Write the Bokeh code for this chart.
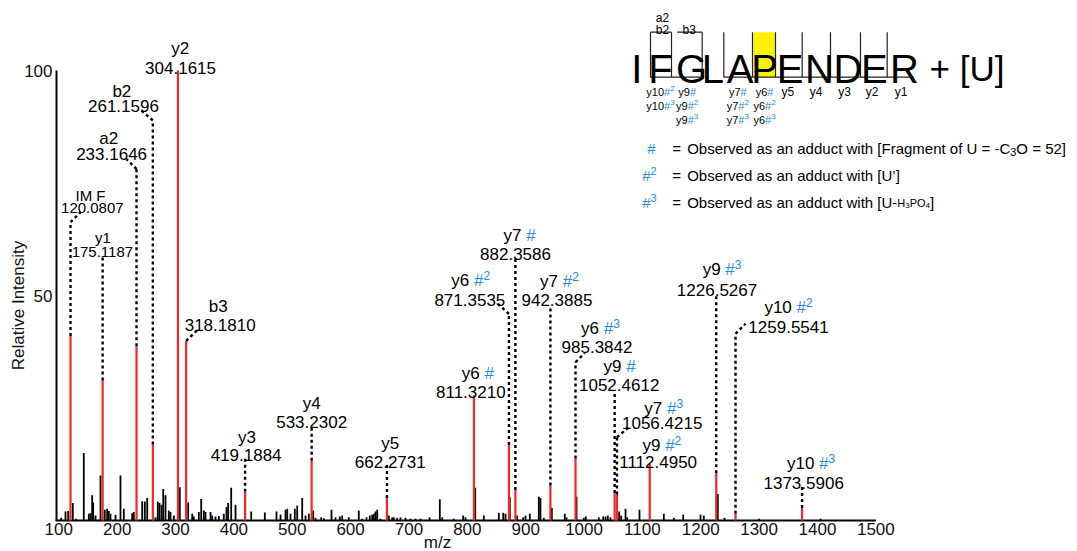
import math
from bokeh.plotting import figure
from bokeh.models import ColumnDataSource, FixedTicker
from bokeh.core.properties import value
from bokeh.embed import file_html
from bokeh.resources import INLINE

# ---------------- data ----------------
ion_mz = [120.0807, 175.1187, 233.1646, 261.1596, 304.1615, 318.1810, 419.1884, 533.2302,
          662.2731, 811.3210, 871.3535, 882.3586, 942.3885, 985.3842, 1052.4612, 1056.4215,
          1112.4950, 1226.5267, 1259.5541, 1373.5906]
ion_int = [41.0, 31.1, 38.7, 16.9, 100.0, 39.9, 6.4, 13.3, 5.0, 27.8, 16.8, 6.8, 7.8, 13.8,
           6.1, 5.8, 12.6, 10.5, 1.5, 2.8]
ion_name = ["IM F", "y1", "a2", "b2", "y2", "b3", "y3", "y4", "y5", "y6", "y6", "y7", "y7",
            "y6", "y9", "y7", "y9", "y9", "y10", "y10"]
ion_adduct = [0, 0, 0, 0, 0, 0, 0, 0, 0, 1, 2, 1, 2, 3, 1, 3, 2, 3, 2, 3]

other_mz = [104.0, 111.5, 116.1, 124.0, 129.8, 142.8, 151.4, 154.3, 157.2, 158.9, 162.9, 171.5,
            178.8, 182.9, 185.7, 188.6, 197.2, 205.7, 211.4, 225.8, 228.5, 242.9, 247.4, 251.5,
            265.7, 269.6, 272.5, 276.0, 278.9, 282.8, 288.5, 291.4, 297.1, 307.3, 321.7, 328.6,
            331.3, 339.9, 344.0, 348.5, 351.4, 360.0, 362.8, 368.5, 374.2, 382.7, 387.4, 390.2,
            395.4, 402.8, 429.7, 453.0, 473.0, 479.9, 488.5, 491.4, 497.0, 504.4, 508.5, 517.1,
            522.7, 528.4, 535.9, 539.9, 549.6, 554.1, 567.3, 574.1, 581.5, 585.6, 596.9, 614.0,
            619.9, 627.2, 632.9, 637.0, 639.8, 642.7, 645.6, 651.2, 665.5, 671.3, 674.0, 679.8,
            685.5, 694.1, 702.6, 711.2, 719.8, 735.2, 752.9, 757.0, 776.8, 792.9, 796.9, 813.5,
            828.3, 854.0, 861.5, 865.4, 872.8, 885.4, 895.7, 899.7, 907.1, 922.5, 925.3, 931.1,
            944.8, 967.0, 970.0, 987.1, 999.6, 1003.0, 1025.3, 1032.8, 1036.8, 1040.7, 1045.3,
            1060.2, 1063.7, 1071.1, 1074.0, 1095.0, 1136.7, 1153.8, 1169.9, 1199.6, 1205.2,
            1229.2, 1240.7, 1299.5, 1405.2]
other_int = [0.6, 2.0, 2.1, 3.9, 0.4, 15.0, 1.5, 1.6, 5.6, 4.0, 1.1, 10.0,
             2.4, 2.6, 2.1, 1.5, 1.3, 10.0, 2.6, 1.6, 1.9, 4.3, 4.2, 5.0,
             0.7, 4.2, 3.9, 3.5, 7.0, 5.6, 2.2, 1.9, 1.1, 7.4, 4.0, 1.5,
             0.9, 1.9, 4.8, 2.2, 1.9, 1.9, 1.1, 0.9, 1.0, 1.5, 3.0, 3.9,
             7.3, 3.5, 2.0, 1.8, 2.0, 1.3, 2.4, 2.6, 1.5, 2.6, 3.3, 5.0,
             1.1, 1.5, 2.2, 0.6, 0.7, 0.5, 2.4, 0.7, 0.9, 1.1, 0.7, 2.2,
             0.4, 0.7, 1.1, 1.3, 1.5, 2.0, 2.4, 0.4, 1.1, 0.7, 0.7, 0.6,
             0.7, 0.6, 0.4, 0.4, 0.4, 0.7, 4.7, 0.7, 0.4, 1.1, 0.7, 7.3,
             1.1, 1.7, 1.7, 1.5, 5.2, 1.1, 0.7, 1.1, 1.5, 5.3, 5.0, 0.6,
             2.8, 1.5, 0.7, 5.3, 0.6, 0.9, 0.7, 0.9, 0.9, 1.1, 0.7,
             2.0, 1.1, 2.6, 0.7, 2.4, 1.5, 0.6, 1.3, 1.3, 1.1,
             5.9, 0.6, 0.4, 0.4]

x_ticks = list(range(100, 1501, 100))
y_ticks = [50, 100]
x_title = "m/z"
y_title = "Relative Intensity"

sequence = "IFGLAPENDER"
modified_index = 5
modification = "+ [U]"
legend_rows = [
    [("Observed as an adduct with [Fragment of U = -C", "n"), ("3", "sub"), ("O = 52]", "n")],
    [("Observed as an adduct with [U\u2019]", "n")],
    [("Observed as an adduct with [U-", "n"), ("H", "s"), ("3", "ss"), ("PO", "s"), ("4", "ss"), ("]", "n")],
]

# ---------------- layout (pixel offsets, not data) ----------------
lead_top = [66.3, 58.5, 78.1, 88.9, None, None, 13.7, 21.1, 12.7, None, 45.9, 58.7, 47.8, 35.2,
            28.9, 18.5, None, 50.2, 41.5, 7.8]
lead_diag = [(10, -10), None, (-10, -10), (-12.7, -11), None, (11, -10.7), None, None, None, None,
             (-11.6, -10.6), None, None, (9.3, -9), None, (11.8, -10), None, None, (10, -10), None]
lab_dx1 = [20, 0.3, -27.8, -31, 2.3, 32, 2, 0, 3.3, 4, -38.3, 4.3, 9, 25, 4.9, 46.8, 12.2, 5.8, 53, 9]
lab_dx2 = [21.8, 0.3, -24.9, -29.4, 2.6, 34, 1, 0, 3.3, -2.5, -39.1, 0.1, 6.5, 21.5, 4.5, 45.2, 9.7, 0.8, 53, 1.6]
lab_base1 = [194.9, 237.1, 137.8, 91.4, 48, 306.1, 436.6, 403.3, 443.3, 373.3, 280.3, 235, 281.3,
             328.3, 366, 407.6, 445, 269.3, 306.6, 463.3]
lab_base2 = [207.4, 251.4, 153.8, 105.8, 67.8, 324.1, 454.4, 421.1, 461.1, 391.1, 299.4, 253.1,
             299.4, 346.4, 384.4, 422.4, 461.8, 289.4, 326.8, 482.8]
lab_fs = [15, 15] + [17] * 18

res_px = [636.3, 660, 686.7, 712.3, 737.3, 764, 787.3, 815.7, 844, 871.7, 900.7]
cleave_px = [650, 671, 701.7, 723.3, 752, 775, 801.7, 830, 860, 886.7]
seq_end_px = 913.3

FONT = "Liberation Sans"
BLUE = "#2a8bd6"
RED = "#f0282a"

W, H = 1077, 551
SX, SY = 0.5836, 4.5          # px per m/z unit, px per % intensity
X0 = 100 - 58.3 / SX           # frame covers the whole canvas
X1 = X0 + W / SX
Y1 = 520 / SY                  # baseline at y 520
Y0 = Y1 - H / SY


def PX(px):
    return X0 + px / SX


def PY(py):
    return Y1 - py / SY


AW = {' ': 0.278, '#': 0.556, '.': 0.278, '-': 0.333, '=': 0.584, '[': 0.278, ']': 0.278,
      '\u2019': 0.222, '+': 0.584, '/': 0.278,
      'a': 0.556, 'b': 0.556, 'c': 0.5, 'd': 0.556, 'e': 0.556, 'f': 0.278, 'g': 0.556,
      'h': 0.556, 'i': 0.222, 'm': 0.833, 'n': 0.556, 'o': 0.556, 'r': 0.333, 's': 0.5,
      't': 0.278, 'u': 0.556, 'v': 0.5, 'w': 0.722, 'y': 0.5, 'z': 0.5,
      'C': 0.722, 'F': 0.611, 'H': 0.722, 'I': 0.278, 'M': 0.833, 'O': 0.778, 'P': 0.667,
      'U': 0.722}


def tw(s, fs):
    return sum(AW.get(c, 0.556) for c in s) * fs


T = dict(x=[], y=[], text=[], color=[], size=[])


def put(x, y, s, color, fs):
    T['x'].append(x)
    T['y'].append(y)
    T['text'].append(s)
    T['color'].append(color)
    T['size'].append(f"{fs}px")


def runs_left(xl, ybase, runs):
    x = xl
    for t, c, fs, r in runs:
        put(x, PY(ybase - r), t, c, fs)
        x += tw(t, fs) / SX


def runs_center(xc, ybase, runs):
    total = sum(tw(t, fs) for t, c, fs, r in runs)
    runs_left(xc - total / 2 / SX, ybase, runs)


p = figure(width=W, height=H, x_range=(X0, X1), y_range=(Y0, Y1),
           output_backend="svg", toolbar_location=None,
           min_border_left=0, min_border_right=0, min_border_top=0, min_border_bottom=0)
p.grid.visible = False
p.outline_line_color = None
p.background_fill_color = "white"

p.xaxis.ticker = FixedTicker(ticks=x_ticks)
p.yaxis.ticker = FixedTicker(ticks=y_ticks)
p.xaxis.fixed_location = 0
p.yaxis.fixed_location = PX(56)
for ax in (p.xaxis[0], p.yaxis[0]):
    ax.axis_line_color = None
    ax.major_tick_line_color = None
    ax.minor_tick_line_color = None
    ax.major_tick_out = 0
    ax.major_tick_in = 0
    ax.minor_tick_out = 0
    ax.minor_tick_in = 0
    ax.major_label_text_font = FONT
    ax.major_label_text_font_size = "17px"
    ax.major_label_text_color = "#111111"
p.xaxis.major_label_standoff = 2
p.yaxis.major_label_standoff = 4

# axis lines
p.segment(x0=[PX(56)], y0=[0], x1=[PX(56)], y1=[100], line_color="black", line_width=2)
p.segment(x0=[PX(55)], y0=[0], x1=[x_ticks[-1]], y1=[0], line_color="black", line_width=2)

# peaks
p.segment(x0=other_mz, y0=[0] * len(other_mz), x1=other_mz, y1=other_int,
          line_color="black", line_width=1.8)
p.segment(x0=ion_mz, y0=[0] * len(ion_mz), x1=ion_mz, y1=ion_int,
          line_color=RED, line_width=2.2)

# leader lines
lx0, ly0, lx1, ly1 = [], [], [], []
for i, mz in enumerate(ion_mz):
    ys = ion_int[i]
    if lead_top[i] is not None:
        lx0.append(mz); ly0.append(ion_int[i]); lx1.append(mz); ly1.append(lead_top[i])
        ys = lead_top[i]
    if lead_diag[i] is not None:
        dx, dy = lead_diag[i]
        lx0.append(mz); ly0.append(ys); lx1.append(mz + dx / SX); ly1.append(ys - dy / SY)
p.segment(x0=lx0, y0=ly0, x1=lx1, y1=ly1, line_color="black", line_width=2.4, line_dash="3 3")

# peak labels
for i, mz in enumerate(ion_mz):
    fs = lab_fs[i]
    a = ion_adduct[i]
    if a == 0:
        r1 = [(ion_name[i], "black", fs, 0)]
    else:
        r1 = [(ion_name[i] + " ", "black", fs, 0), ("#", BLUE, fs, 0)]
        if a >= 2:
            r1.append((str(a), BLUE, round(0.7 * fs), 0.3 * fs))
    runs_center(mz + lab_dx1[i] / SX, lab_base1[i], r1)
    runs_center(mz + lab_dx2[i] / SX, lab_base2[i], [(f"{mz:.4f}", "black", fs, 0)])

# ---------------- peptide diagram ----------------
p.quad(left=[PX(752.7)], right=[PX(775)], top=[PY(31.7)], bottom=[PY(76.7)],
       fill_color="#fff200", line_color=None)
for k, ch in enumerate(sequence):
    runs_center(PX(res_px[k]), 68.3, [(ch, "black", 40, 0)])
runs_left(PX(929), 68.3, [(modification, "black", 35, 0)])

yT, yB = 31.7, 76.7
bx0, by0, bx1, by1 = [], [], [], []
for cx in cleave_px:
    bx0.append(PX(cx)); by0.append(PY(yT)); bx1.append(PX(cx)); by1.append(PY(yB))
n_res = len(sequence)
ynums = sorted({int(n[1:]) for n in ion_name if n.startswith("y")})
for n in ynums:
    c = n_res - n
    left = cleave_px[c - 1]
    right = cleave_px[c] if c < len(cleave_px) else seq_end_px
    bx0.append(PX(left)); by0.append(PY(yB)); bx1.append(PX(right)); by1.append(PY(yB))
bnums = sorted({int(n[1:]) for n in ion_name if n.startswith("b")})
for n in bnums:
    right = cleave_px[n - 1]
    left = cleave_px[n - 2] + (0 if n == 2 else 5.7)
    bx0.append(PX(left)); by0.append(PY(yT)); bx1.append(PX(right)); by1.append(PY(yT))
p.segment(x0=bx0, y0=by0, x1=bx1, y1=by1, line_color="#222222", line_width=1.2)

row_base = [91.3, 105.5, 119.5]
for n in ynums:
    adds = sorted(ion_adduct[i] for i, nm in enumerate(ion_name) if nm == f"y{n}")
    idx = n_res - n
    for row, a in enumerate(adds):
        if a == 0:
            runs = [(f"y{n}", "black", 12, 0)]
        else:
            runs = [(f"y{n}", "black", 11, 0), ("#", BLUE, 11, 0)]
            if a >= 2:
                runs.append((str(a), BLUE, 8, 3.5))
        runs_center(PX(res_px[idx]), row_base[row], runs)
for nm in ion_name:
    if nm[0] in "ab" and nm[1:].isdigit():
        n = int(nm[1:])
        base = 29.3 if nm[0] == "b" else 17.6
        runs_center(PX(res_px[n - 1] + 2), base, [(nm, "black", 12, 0)])

# legend
leg_base = [148.3, 175.3, 202.3]
for r, row in enumerate(legend_rows):
    if r == 0:
        runs_left(PX(646.7), leg_base[r], [("#", BLUE, 15, 0)])
    else:
        runs_left(PX(641.7), leg_base[r], [("#", BLUE, 15, 0), (str(r + 1), BLUE, 11, 5)])
    runs_left(PX(671.7), leg_base[r], [("=", "black", 15, 0)])
    runs = []
    for t, kind in row:
        if kind == "n":
            runs.append((t, "black", 15, 0))
        elif kind == "sub":
            runs.append((t, "black", 11, -3))
        elif kind == "s":
            runs.append((t, "black", 11, 0))
        else:
            runs.append((t, "black", 8, -2.5))
    runs_left(PX(686.7), leg_base[r], runs)

# axis titles (inside the full-canvas frame)
runs_center(PX(437), 542, [(x_title, "#111111", 17, 0)])

p.text(x='x', y='y', text='text', text_color='color', text_font_size='size',
       text_align='left', text_baseline='alphabetic', text_font=value(FONT),
       source=ColumnDataSource(T))
p.text(x=[PX(18)], y=[PY(305)], text=[y_title], angle=math.pi / 2,
       text_align="center", text_baseline="middle", text_font=value(FONT),
       text_font_size="17px", text_color="#111111")

open("out.html", "w").write(file_html(p, INLINE))
